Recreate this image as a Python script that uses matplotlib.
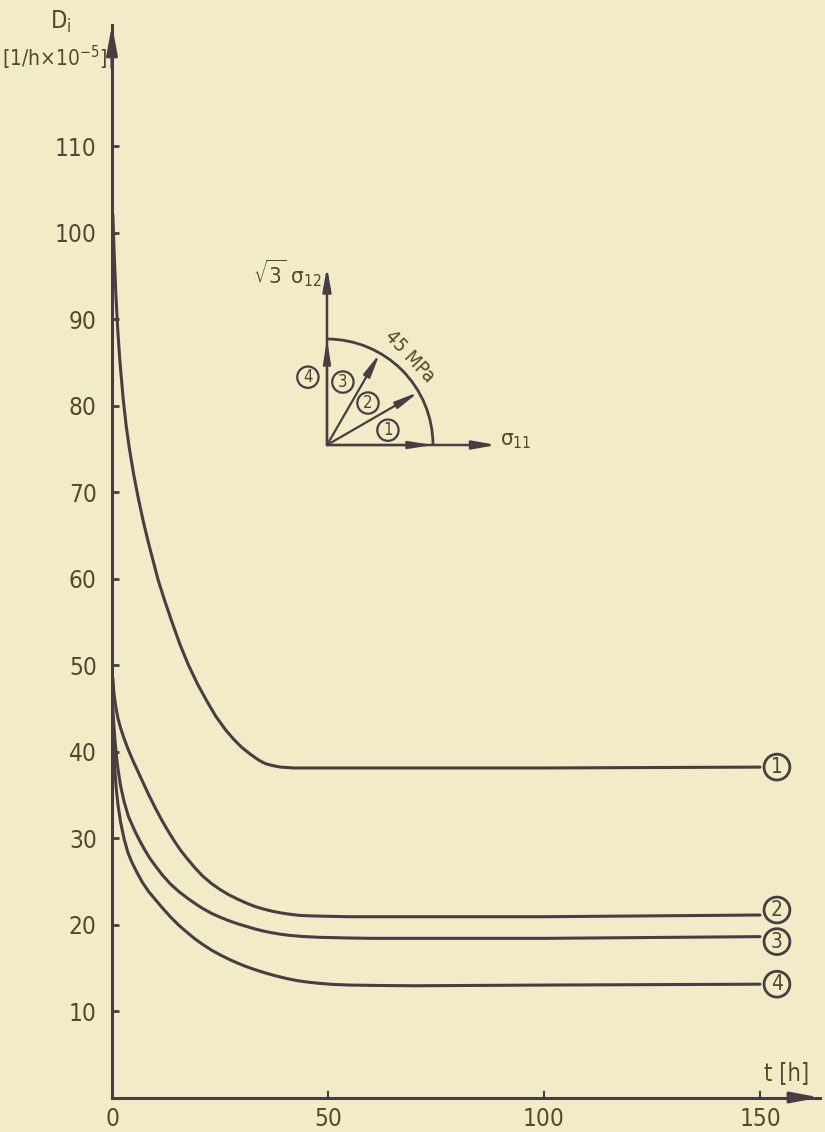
import math
import matplotlib
matplotlib.use("Agg")
import matplotlib.pyplot as plt
from matplotlib.patches import Arc

# Creep rate D_i [1/h x 10^-5] versus time t [h] for four stress paths
t1 = [0.2, 0.5, 0.9, 1.3, 1.8, 2.6, 3.3, 4.0, 5.0, 6.0, 7.2, 8.5, 10.7, 12.3, 14.0, 15.8,
      17.7, 19.8, 22.0, 24.0, 26.3, 28.2, 30.0, 32.0, 34.0, 35.5, 37.0, 39.0, 42.0, 50.0,
      100.0, 150.0]
d1 = [102.1, 97.6, 92.8, 89.0, 85.3, 80.7, 77.6, 75.1, 72.1, 69.5, 66.7, 64.0, 59.8, 57.3,
      54.8, 52.3, 50.0, 47.8, 45.8, 44.1, 42.5, 41.4, 40.5, 39.7, 39.0, 38.6, 38.4, 38.2,
      38.1, 38.1, 38.1, 38.2]

t2 = [0.2, 0.4, 0.7, 1.0, 1.4, 2.0, 2.8, 3.7, 4.8, 6.0, 7.2, 8.5, 10.0, 11.6, 13.0, 14.5,
      16.0, 17.6, 19.3, 21.0, 23.0, 25.0, 27.0, 29.0, 31.0, 33.0, 35.0, 37.0, 39.0, 41.0,
      43.5, 46.0, 50.0, 55.0, 100.0, 150.0]
d2 = [48.5, 47.0, 45.8, 44.8, 43.8, 42.7, 41.5, 40.3, 39.0, 37.7, 36.4, 35.0, 33.5, 32.0,
      30.8, 29.6, 28.5, 27.5, 26.5, 25.6, 24.75, 24.05, 23.45, 22.95, 22.5, 22.1, 21.8,
      21.55, 21.35, 21.2, 21.05, 21.0, 20.95, 20.9, 20.9, 21.1]

t3 = [0.2, 0.4, 0.7, 1.0, 1.4, 2.0, 2.8, 3.8, 5.3, 6.4, 7.5, 8.7, 10.0, 11.7, 13.5, 15.5,
      17.6, 19.3, 21.0, 23.0, 25.0, 27.0, 29.0, 31.0, 33.0, 35.0, 37.0, 39.0, 41.0, 44.0,
      48.0, 54.0, 60.0, 100.0, 150.0]
d3 = [45.0, 43.3, 41.2, 39.6, 37.9, 36.0, 34.2, 32.5, 30.8, 29.7, 28.7, 27.7, 26.8, 25.7,
      24.7, 23.8, 23.0, 22.4, 21.85, 21.3, 20.85, 20.45, 20.1, 19.8, 19.5, 19.25, 19.05,
      18.88, 18.75, 18.62, 18.52, 18.45, 18.4, 18.4, 18.6]

t4 = [0.2, 0.4, 0.7, 1.0, 1.4, 2.0, 2.8, 3.7, 4.6, 5.8, 7.0, 8.5, 10.0, 11.7, 13.5, 15.5,
      17.6, 19.3, 21.0, 23.0, 25.0, 27.0, 29.0, 31.0, 33.0, 35.5, 38.0, 40.5, 43.0, 45.5,
      48.0, 51.0, 55.0, 62.0, 70.0, 100.0, 150.0]
d4 = [43.0, 40.3, 37.6, 35.6, 33.8, 31.8, 29.9, 28.3, 27.2, 26.0, 24.9, 23.8, 22.9, 21.9,
      20.9, 19.9, 19.0, 18.3, 17.7, 17.05, 16.5, 16.0, 15.55, 15.15, 14.8, 14.4, 14.05,
      13.75, 13.5, 13.33, 13.2, 13.08, 13.0, 12.95, 12.92, 13.0, 13.1]

curve_labels = ["1", "2", "3", "4"]
x_ticks = [0, 50, 100, 150]
y_ticks = [10, 20, 30, 40, 50, 60, 70, 80, 90, 100, 110]

# stress path directions in the sigma_11 / sqrt(3) sigma_12 plane (degrees)
path_angles = [0, 30, 60, 90]
path_stress = "45 MPa"

BG = "#f2ebc8"
INK = "#4a3d42"
TXT = "#54462f"

plt.rcParams["font.family"] = ["DejaVu Sans Condensed", "Liberation Sans Narrow", "DejaVu Sans"]
plt.rcParams["font.stretch"] = "condensed"

W, H = 825, 1132
fig = plt.figure(figsize=(W / 100, H / 100), dpi=100, facecolor=BG)


def fpx(x, y):
    return x / W, 1 - y / H


# ---- main diagram ----
ax = fig.add_axes([112 / W, 1 - 1097.5 / H, (820 - 112) / W, (1097.5 - 25) / H])
ax.set_facecolor("none")
ax.set_xlim(0, 163.9)
ax.set_ylim(0, 124)
for s in ("top", "right"):
    ax.spines[s].set_visible(False)
for s in ("left", "bottom"):
    ax.spines[s].set_linewidth(2.2)
    ax.spines[s].set_color(INK)

arrow_kw = dict(arrowstyle="-|>,head_length=1.7,head_width=0.32", color=INK,
                lw=2.2, shrinkA=0, shrinkB=0)
ax.annotate("", xy=(1, 0), xytext=(0.96, 0), xycoords="axes fraction",
            arrowprops=arrow_kw, annotation_clip=False)
ax.annotate("", xy=(0, 1), xytext=(0, 0.96), xycoords="axes fraction",
            arrowprops=arrow_kw, annotation_clip=False)

ax.set_xticks(x_ticks)
ax.set_xticklabels([str(v) for v in x_ticks])
ax.set_yticks(y_ticks)
ax.set_yticklabels([str(v) for v in y_ticks])
ax.tick_params(axis="y", direction="in", length=5, width=2, pad=11,
               labelsize=17.5, color=INK, labelcolor=TXT)
ax.tick_params(axis="x", direction="in", length=5, width=1.5, pad=7,
               labelsize=17.5, color=INK, labelcolor=TXT)

series = [(t1, d1), (t2, d2), (t3, d3), (t4, d4)]
label_dy = [0, 5, -5, 0]
for (t, d), lab, dy in zip(series, curve_labels, label_dy):
    ax.plot(t, d, color=INK, lw=2.2, solid_capstyle="round", solid_joinstyle="round")
    ax.annotate(lab, xy=(t[-1], d[-1]), xytext=(17, dy), textcoords="offset pixels",
                ha="center", va="center", fontsize=15, color=TXT,
                bbox=dict(boxstyle="circle,pad=0.14", fc="none", ec=INK, lw=2),
                annotation_clip=False)

fig.text(*fpx(61, 22), r"D$_{\mathregular{i}}$", fontsize=17, color=TXT,
         ha="center", va="center")
fig.text(*fpx(55, 58), r"[1/h×10$^{\mathregular{-5}}$]", fontsize=15, color=TXT,
         ha="center", va="center")
fig.text(*fpx(787, 1073), "t [h]", fontsize=17, color=TXT, ha="center", va="center")

# ---- stress path sketch ----
iax = fig.add_axes([260 / W, 1 - 475 / H, 285 / W, 225 / H])
iax.set_xlim(-0.632, 2.057)
iax.set_ylim(-0.283, 1.840)
iax.axis("off")
iax.patch.set_alpha(0)

ax_arrow = dict(arrowstyle="-|>,head_length=1.4,head_width=0.25", color=INK,
                lw=1.8, shrinkA=0, shrinkB=0)
iax.annotate("", xy=(1.60, 0), xytext=(0, 0), arrowprops=ax_arrow)
iax.annotate("", xy=(0, 1.68), xytext=(0, 0), arrowprops=ax_arrow)
iax.add_patch(Arc((0, 0), 2, 2, theta1=0, theta2=90, color=INK, lw=2))

ray_arrow = dict(arrowstyle="-|>,head_length=1.4,head_width=0.22", color=INK,
                 lw=1.6, shrinkA=0, shrinkB=0)
for a in path_angles:
    r = math.radians(a)
    iax.annotate("", xy=(math.cos(r), math.sin(r)), xytext=(0, 0), arrowprops=ray_arrow)

inset_label_pos = [(0.575, 0.14), (0.387, 0.396), (0.15, 0.594), (-0.18, 0.64)]
for lab, (x, y) in zip(curve_labels, inset_label_pos):
    iax.text(x, y, lab, ha="center", va="center", fontsize=12, color=TXT,
             bbox=dict(boxstyle="circle,pad=0.1", fc="none", ec=INK, lw=1.6))

iax.text(0.78, 0.84, path_stress, fontsize=14, color=TXT, rotation=-47,
         rotation_mode="anchor", ha="center", va="center")
iax.text(-0.05, 1.62, r"$\sqrt{3}$ σ$_{\mathregular{12}}$", fontsize=16, color=TXT,
         ha="right", va="center")
iax.text(1.63, 0.04, r"σ$_{\mathregular{11}}$", fontsize=16, color=TXT,
         ha="left", va="center")

fig.savefig("out.png", dpi=100, facecolor=BG)
